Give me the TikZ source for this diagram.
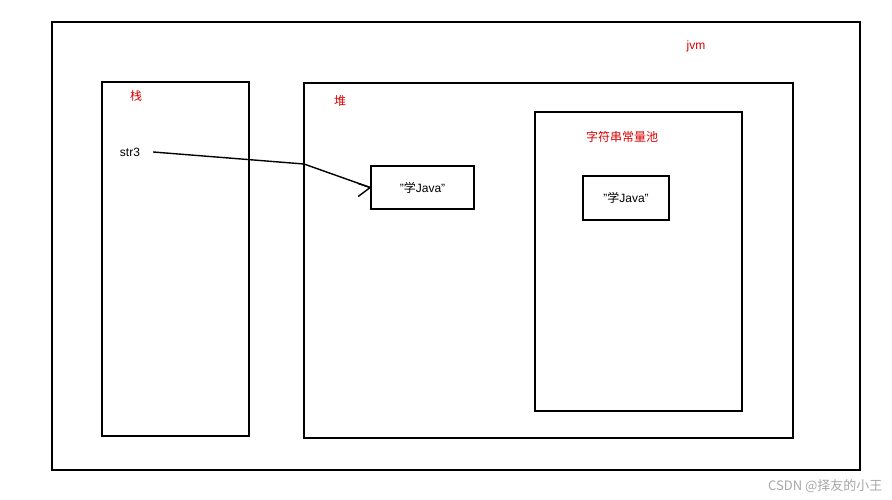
\documentclass[tikz,border=0pt]{standalone}
\usepackage{fontspec}
\setmainfont{Liberation Sans}
\newfontfamily\cjk{Noto Sans CJK SC}
\begin{document}
\begin{tikzpicture}[x=1pt,y=-1pt,
  box/.style={draw,line width=1.6pt},
  red/.style={text=red!85!black,font=\fontsize{12}{14}\selectfont},
  lbl/.style={font=\fontsize{12}{14}\selectfont}]
\useasboundingbox (0,0) rectangle (892,500);
\draw[box] (52,22) rectangle (860,470);
\draw[box] (102,82) rectangle (249,436);
\draw[box] (304,83) rectangle (793,438);
\draw[box] (535,112) rectangle (742,411);
\node[box,minimum width=103pt,minimum height=43pt,lbl] (b1) at (422.5,187.5) {\symbol{34}{\cjk 学}Java\symbol{34}};
\node[box,minimum width=86pt,minimum height=44pt,lbl] (b2) at (626,198) {\symbol{34}{\cjk 学}Java\symbol{34}};
\node[red] at (696,46) {jvm};
\node[red] at (136,96) {\cjk 栈};
\node[red] at (340,101) {\cjk 堆};
\node[red] at (622,137) {\cjk 字符串常量池};
\node[lbl,inner sep=1pt] (s) at (130,152) {str3};
\coordinate (k) at (304,164);
\draw[line width=1.4pt] (s.east) ++(12,0) -- (k) -- (b1.west);
\draw[line width=1.4pt] (b1.west) -- ++(-12,9);
\draw[line width=1.4pt] (b1.west) -- ++(-12,-4);
\node[text=gray!70,font=\fontsize{13}{15}\selectfont\cjk,anchor=east] at (886,486) {CSDN @择友的小王};
\end{tikzpicture}
\end{document}
